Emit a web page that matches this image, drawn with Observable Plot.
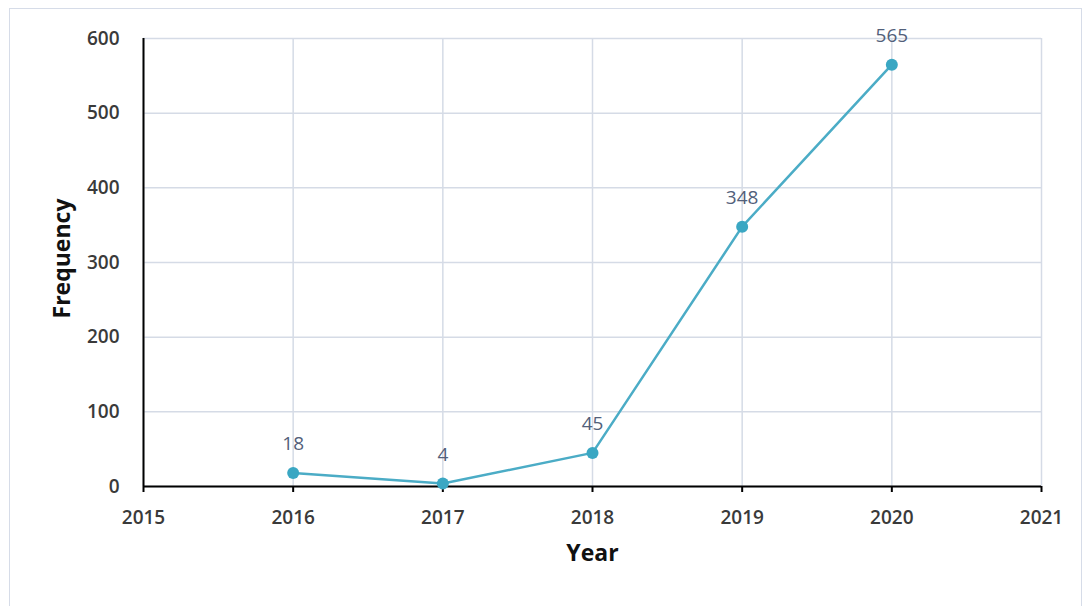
<!DOCTYPE html>
<html><head><meta charset="utf-8">
<script src="https://cdn.jsdelivr.net/npm/d3@7"></script>
<script src="https://cdn.jsdelivr.net/npm/@observablehq/plot@0.6"></script>
<style>
html,body{margin:0;padding:0;background:#fff;}
#wrap{position:relative;width:1085px;height:606px;overflow:hidden;background:#fff;}
#wrap svg{position:absolute;left:0;top:0;}
#frame{position:absolute;left:9px;top:8px;width:1073px;height:620px;border:1.5px solid #d6dce8;box-sizing:border-box;pointer-events:none;z-index:2;}
</style></head><body><div id="wrap"></div>
<script>
const years = [2016, 2017, 2018, 2019, 2020];
const frequency = [18, 4, 45, 348, 565];
const xTicks = [2015, 2016, 2017, 2018, 2019, 2020, 2021];
const yTicks = [0, 100, 200, 300, 400, 500, 600];
const xTitle = "Year";
const yTitle = "Frequency";

const data = years.map((y, i) => ({year: y, freq: frequency[i]}));

const chart = Plot.plot({
  width: 1085, height: 606,
  marginLeft: 143, marginRight: 44, marginTop: 38, marginBottom: 120,
  style: {fontFamily: "'Open Sans', sans-serif", fontSize: "18px", color: "#404040", background: "transparent", overflow: "visible"},
  x: {domain: [2015, 2021], label: null},
  y: {domain: [0, 600], label: null},
  marks: [
    Plot.gridX(xTicks, {stroke: "#d5dbe6", strokeOpacity: 1, strokeWidth: 1.5}),
    Plot.gridY(yTicks, {stroke: "#d5dbe6", strokeOpacity: 1, strokeWidth: 1.5}),
    Plot.axisX({ticks: xTicks, tickFormat: "d", tickSize: 6, tickPadding: 18, stroke: "#000", strokeWidth: 2, strokeOpacity: 1, label: null, fontWeight: 600, fill: "#3a3a3a", fontSize: 19}),
    Plot.axisY({ticks: yTicks, tickSize: 0, tickPadding: 24, label: null, fontWeight: 600, fill: "#3a3a3a", fontSize: 19}),
    Plot.ruleY([0], {stroke: "#000", strokeWidth: 2}),
    Plot.ruleX([2015], {stroke: "#000", strokeWidth: 2}),
    Plot.line(data, {x: "year", y: "freq", stroke: "#4bacc6", strokeWidth: 2.5}),
    Plot.dot(data, {x: "year", y: "freq", r: 6, fill: "#3aa7c3", stroke: null}),
    Plot.text(data, {x: "year", y: "freq", text: d => String(d.freq), dy: -29, fill: "#52607a", fontSize: 19}),
    Plot.text([xTitle], {frameAnchor: "bottom", textAnchor: "middle", dy: 74, text: d => d, fontWeight: 700, fontSize: 23, fill: "#111"}),
    Plot.text([yTitle], {frameAnchor: "left", textAnchor: "middle", dx: -81, dy: -4, rotate: -90, text: d => d, fontWeight: 700, fontSize: 23, fill: "#111"})
  ]
});
const wrap = document.getElementById("wrap");
wrap.appendChild(chart);
const frame = document.createElement("div");
frame.id = "frame";
wrap.appendChild(frame);
</script>
</body></html>
